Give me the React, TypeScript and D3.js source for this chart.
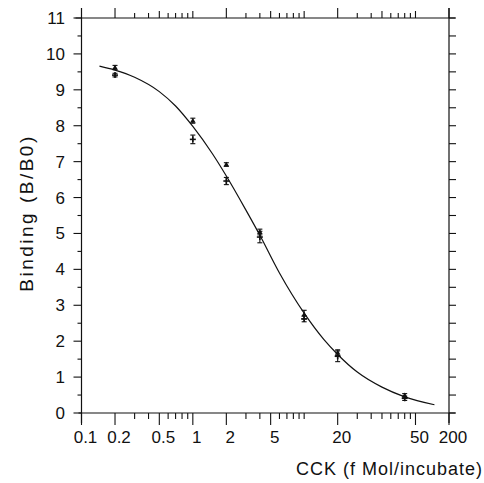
import React from "react";
import * as d3 from "d3";

// ---- data ----
const concentrations = [0.2, 1, 2, 4, 10, 20, 80];
const replicateA = [9.62, 8.14, 6.92, 5.04, 2.74, 1.68, 0.49];
const errorA = [0.06, 0.07, 0.05, 0.08, 0.12, 0.08, 0.05];
const replicateB = [9.41, 7.62, 6.46, 4.9, 2.62, 1.58, 0.41];
const errorB = [0.05, 0.12, 0.1, 0.16, 0.08, 0.15, 0.06];

const curveX = [0.145, 0.2, 0.3, 0.5, 0.7, 1, 1.5, 2, 3, 4, 6, 10, 15, 20, 30, 50, 80, 148];
const curveY = [9.66, 9.55, 9.35, 8.95, 8.55, 7.98, 7.22, 6.6, 5.65, 4.95, 3.9, 2.78, 2.05, 1.63, 1.14, 0.72, 0.45, 0.23];

const bottomMajorTicks = [0.1, 0.2, 0.5, 1, 2, 5, 20, 100, 200];
const bottomTickLabels = ["0.1", "0.2", "0.5", "1", "2", "5", "20", "50", "200"];
const bottomMinorTicks = [0.3, 0.4, 0.6, 0.7, 0.8, 0.9, 3, 4, 6, 7, 8, 9, 10, 30, 40, 50, 60, 70, 80, 90];
const topMajorTicks = [0.2, 2, 20, 200];
const topMidTicks = [0.5, 1, 5, 10, 50, 100];
const topMinorTicks = [0.3, 0.4, 0.6, 0.7, 0.8, 0.9, 3, 4, 6, 7, 8, 9, 30, 40, 60, 70, 80, 90];
const yTickValues = [0, 1, 2, 3, 4, 5, 6, 7, 8, 9, 10, 11];
const yMinorValues = [0.5, 1.5, 2.5, 3.5, 4.5, 5.5, 6.5, 7.5, 8.5, 9.5, 10.5];

const xTitle = "CCK (f Mol/incubate)";
const yTitle = "Binding (B/B0)";

const W = 484;
const H = 483;
const L = 81.5;
const R = 449;
const T = 18;
const B = 413;
const FONT = "'Liberation Sans', Arial, Helvetica, sans-serif";
const INK = "#111";

export default function App() {
  const x = d3.scaleLog().domain([0.1, 200]).range([L, R]);
  const y = d3.scaleLinear().domain([0, 11]).range([B, T]);

  const line = d3
    .line<number>()
    .x((_, i) => x(curveX[i]))
    .y((d) => y(d))
    .curve(d3.curveMonotoneX);

  const errBar = (cx: number, v: number, e: number, key: string) => {
    const px = x(cx);
    const y1 = y(v + e);
    const y2 = y(v - e);
    return (
      <g key={key} stroke={INK} strokeWidth={1.1}>
        <line x1={px} x2={px} y1={y1} y2={y2} />
        <line x1={px - 2.5} x2={px + 2.5} y1={y1} y2={y1} />
        <line x1={px - 2.5} x2={px + 2.5} y1={y2} y2={y2} />
      </g>
    );
  };

  return (
    <svg
      width={W}
      height={H}
      style={{ position: "absolute", left: 0, top: 0, background: "#fff" }}
      fontFamily={FONT}
    >
      <rect x={0} y={0} width={W} height={H} fill="#fff" />
      {/* frame */}
      <g stroke={INK} strokeWidth={1.2} fill="none">
        <line x1={L - 3} x2={R + 6} y1={B} y2={B} />
        <line x1={L - 6} x2={R + 6} y1={T} y2={T} />
        <line x1={L} x2={L} y1={T - 10} y2={B + 10} />
        <line x1={R} x2={R} y1={T - 10} y2={B + 10} />
      </g>
      {/* ticks */}
      <g stroke={INK} strokeWidth={1.1}>
        {bottomMajorTicks.map((v) => (
          <line key={"bM" + v} x1={x(v)} x2={x(v)} y1={B} y2={B + 12} />
        ))}
        {bottomMinorTicks.map((v) => (
          <line key={"bm" + v} x1={x(v)} x2={x(v)} y1={B} y2={B + 6} />
        ))}
        {topMajorTicks.map((v) => (
          <line key={"tM" + v} x1={x(v)} x2={x(v)} y1={T} y2={T - 10} />
        ))}
        {topMidTicks.map((v) => (
          <line key={"tmid" + v} x1={x(v)} x2={x(v)} y1={T} y2={T - 7} />
        ))}
        {topMinorTicks.map((v) => (
          <line key={"tm" + v} x1={x(v)} x2={x(v)} y1={T} y2={T - 5} />
        ))}
        {yTickValues.map((v) => (
          <line key={"lM" + v} x1={L - 8} x2={L} y1={y(v)} y2={y(v)} />
        ))}
        {yMinorValues.map((v) => (
          <line key={"lm" + v} x1={L - 4} x2={L} y1={y(v)} y2={y(v)} />
        ))}
        {yTickValues.concat(yMinorValues).map((v) => (
          <line key={"r" + v} x1={R} x2={R + 7} y1={y(v)} y2={y(v)} />
        ))}
      </g>
      {/* tick labels */}
      <g fontSize={17} fill={INK}>
        {bottomMajorTicks.map((v, i) => (
          <text key={"bl" + v} x={x(v) + 4} y={443} textAnchor="middle">
            {bottomTickLabels[i]}
          </text>
        ))}
        {yTickValues.map((v) => (
          <text key={"yl" + v} x={65} y={y(v) + 6} textAnchor="end">
            {v}
          </text>
        ))}
      </g>
      {/* titles */}
      <text x={483} y={475} textAnchor="end" fontSize={18} letterSpacing={1} fill={INK}>
        {xTitle}
      </text>
      <text
        transform={`translate(33, 213) rotate(-90)`}
        textAnchor="middle"
        fontSize={19}
        letterSpacing={2.5}
        fill={INK}
      >
        {yTitle}
      </text>
      {/* fitted curve */}
      <path d={line(curveY) || ""} fill="none" stroke={INK} strokeWidth={1.2} />
      {/* data points */}
      {concentrations.map((c, i) => errBar(c, replicateA[i], errorA[i], "ea" + i))}
      {concentrations.map((c, i) => errBar(c, replicateB[i], errorB[i], "eb" + i))}
      {concentrations.map((c, i) => {
        const px = x(c);
        const py = y(replicateA[i]);
        return (
          <path
            key={"ma" + i}
            d={`M${px - 2.8},${py + 2} L${px + 2.8},${py + 2} L${px},${py - 2.8} Z`}
            fill={INK}
          />
        );
      })}
      {concentrations.map((c, i) => {
        const px = x(c);
        const py = y(replicateB[i]);
        return (
          <g key={"mb" + i} stroke={INK} strokeWidth={1.6}>
            <line x1={px - 3} x2={px + 3} y1={py} y2={py} />
            <line x1={px} x2={px} y1={py - 3} y2={py + 3} />
          </g>
        );
      })}
    </svg>
  );
}
